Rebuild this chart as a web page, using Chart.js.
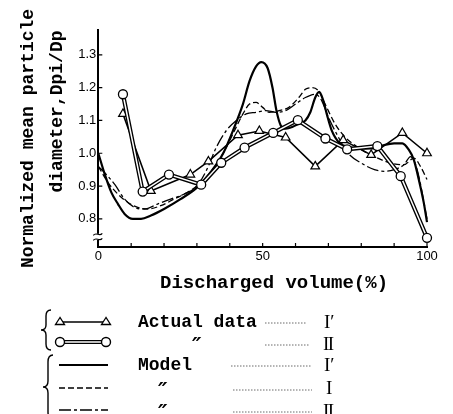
<!DOCTYPE html>
<html>
<head>
<meta charset="utf-8">
<script src="https://cdn.jsdelivr.net/npm/chart.js@4.4.1/dist/chart.umd.min.js"></script>
<style>
  html, body { margin: 0; padding: 0; background: #fff; }
  #wrap { position: relative; width: 453px; height: 414px; overflow: hidden; }
  #c { position: absolute; left: 0; top: 0; }
  #leg { position: absolute; left: 0; top: 0; pointer-events: none; }
</style>
</head>
<body>
<div id="wrap">
  <canvas id="c" width="453" height="414"></canvas>
  <svg id="leg" width="453" height="414" xmlns="http://www.w3.org/2000/svg">
    <path d="M51 310 Q46 310 46 316 L46 325 Q46 330 41 330 Q46 330 46 335 L46 344 Q46 350 51 350" fill="none" stroke="#000" stroke-width="1.4"/>
    <path d="M53 355 Q48 355 48 362 L48 381 Q48 387 43 387 Q48 387 48 393 L48 412 Q48 419 53 419" fill="none" stroke="#000" stroke-width="1.4"/>
    <line x1="60" y1="322" x2="106" y2="322" stroke="#000" stroke-width="1.5"/>
    <path d="M60 317.5 L55.5 324.5 L64.5 324.5 Z" fill="#fff" stroke="#000" stroke-width="1.3"/>
    <path d="M106 317.5 L101.5 324.5 L110.5 324.5 Z" fill="#fff" stroke="#000" stroke-width="1.3"/>
    <line x1="60" y1="342" x2="106" y2="342" stroke="#000" stroke-width="4"/>
    <line x1="64" y1="342" x2="102" y2="342" stroke="#fff" stroke-width="1.5"/>
    <circle cx="60" cy="342" r="4.5" fill="#fff" stroke="#000" stroke-width="1.4"/>
    <circle cx="106" cy="342" r="4.5" fill="#fff" stroke="#000" stroke-width="1.4"/>
    <line x1="59" y1="365" x2="108" y2="365" stroke="#000" stroke-width="2"/>
    <line x1="59" y1="388" x2="108" y2="388" stroke="#000" stroke-width="1.5" stroke-dasharray="6 3"/>
    <line x1="59" y1="410" x2="108" y2="410" stroke="#000" stroke-width="1.5" stroke-dasharray="12 3 3 3"/>
    <g stroke="#444" stroke-width="0.8" stroke-dasharray="1.5 1.5">
      <line x1="265" y1="323" x2="307" y2="323"/>
      <line x1="265" y1="345" x2="310" y2="345"/>
      <line x1="231" y1="366" x2="312" y2="366"/>
      <line x1="233" y1="390" x2="312" y2="390"/>
      <line x1="233" y1="412" x2="312" y2="412"/>
    </g>
    <g font-family="Liberation Mono, monospace" font-weight="bold" font-size="18" fill="#000">
      <text x="138" y="327">Actual data</text>
      <text x="138" y="370">Model</text>
    </g>
    <g font-family="DejaVu Sans, sans-serif" font-weight="bold" font-style="italic" font-size="21" fill="#000">
      <text x="192" y="353">″</text>
      <text x="158" y="398">″</text>
      <text x="158" y="420">″</text>
    </g>
    <g font-family="Liberation Serif, serif" font-size="19" fill="#000">
      <text x="324" y="328">I′</text>
      <text x="323" y="350" letter-spacing="-1.5">II</text>
      <text x="324" y="371">I′</text>
      <text x="326" y="394">I</text>
      <text x="323" y="417" letter-spacing="-1.5">II</text>
    </g>
  </svg>
</div>
<script>
// ---- data ----
// Actual data I' (triangles)
const actualIx = [7.5, 16, 28, 33.5, 42.5, 49, 57, 66, 74.5, 83, 92.5, 100];
const actualIy = [1.12, 0.885, 0.935, 0.975, 1.055, 1.068, 1.048, 0.96, 1.04, 0.995, 1.062, 1.0];
// Actual data II (circles)
const actualIIx = [7.5, 13.5, 21.5, 31.3, 37.4, 44.5, 53.2, 60.7, 69.1, 75.7, 84.9, 92, 100];
const actualIIy = [1.18, 0.883, 0.935, 0.904, 0.971, 1.017, 1.062, 1.101, 1.045, 1.012, 1.022, 0.93, 0.742];
// Model I' (solid)
const modelIpx = [0, 2, 4, 6, 8, 10.5, 13, 16, 20, 25, 30, 34, 38, 41, 44, 46, 48, 49.6, 51.5, 53, 54.2, 55.5, 57, 59, 61, 63, 64.5, 66, 67.2, 68.3, 69.5, 71, 73.5, 76, 80, 84, 87, 90, 92.5, 94.5, 96, 97.5, 99, 100];
const modelIpy = [1.0, 0.935, 0.88, 0.845, 0.815, 0.80, 0.80, 0.81, 0.83, 0.86, 0.895, 0.94, 1.0, 1.07, 1.15, 1.22, 1.265, 1.278, 1.26, 1.2, 1.13, 1.085, 1.075, 1.08, 1.09, 1.1, 1.125, 1.17, 1.187, 1.165, 1.12, 1.07, 1.03, 1.02, 1.015, 1.015, 1.025, 1.03, 1.03, 1.01, 0.98, 0.92, 0.85, 0.79];
// Model I (dashed)
const modelIx = [0, 3, 6, 9, 12, 15, 19, 23, 27, 30, 34, 38, 41, 44, 46, 48, 50, 52, 55, 58, 61, 63, 65, 67, 69, 72, 75, 78, 81, 85, 89, 93, 96, 98, 100];
const modelIy = [0.96, 0.91, 0.875, 0.85, 0.835, 0.83, 0.84, 0.86, 0.88, 0.9, 0.94, 1.0, 1.06, 1.12, 1.15, 1.155, 1.14, 1.125, 1.13, 1.14, 1.17, 1.195, 1.2, 1.19, 1.15, 1.09, 1.05, 1.025, 1.005, 0.985, 0.97, 0.965, 0.985, 0.96, 0.92];
// Model II (dash-dot)
const modelIIx = [0, 2, 5, 8, 11, 14, 18, 22, 26, 30, 33, 36, 39, 42, 45, 48, 51, 54, 57, 60, 63, 66, 68, 70, 73, 76, 80, 84, 87, 90, 93, 95, 97, 100];
const modelIIy = [0.96, 0.94, 0.905, 0.86, 0.835, 0.83, 0.845, 0.86, 0.875, 0.9, 0.95, 1.02, 1.07, 1.1, 1.12, 1.125, 1.13, 1.125, 1.13, 1.15, 1.17, 1.18, 1.16, 1.11, 1.05, 1.0, 0.97, 0.95, 0.945, 0.95, 0.965, 0.99, 0.95, 0.8];
// axis ticks
const yTickValues = [0.8, 0.9, 1.0, 1.1, 1.2, 1.3];
const xLabelValues = [0, 50, 100];
const xMinorTicks = [0, 10, 20, 30, 40, 50, 60, 70, 80, 90, 100];

const pts = (xs, ys) => xs.map((x, i) => ({ x: x, y: ys[i] }));

const axisExtras = {
  id: 'axisExtras',
  afterDraw(chart) {
    const ctx = chart.ctx;
    const xs = chart.scales.x, ys = chart.scales.y;
    const a = chart.chartArea;
    ctx.save();
    ctx.strokeStyle = '#000';
    ctx.lineWidth = 1.2;
    ctx.beginPath();
    xMinorTicks.forEach(v => {
      const px = xs.getPixelForValue(v);
      ctx.moveTo(px, a.bottom);
      ctx.lineTo(px, a.bottom - 4);
    });
    yTickValues.forEach(v => {
      const py = ys.getPixelForValue(v);
      ctx.moveTo(a.left, py);
      ctx.lineTo(a.left + 4, py);
    });
    ctx.stroke();
    const by = ys.getPixelForValue(0.745);
    ctx.fillStyle = '#fff';
    ctx.fillRect(a.left - 2, by - 3, 4, 6);
    ctx.lineWidth = 1.1;
    [by - 2.5, by + 2.5].forEach(yy => {
      ctx.beginPath();
      ctx.moveTo(a.left - 5, yy + 1);
      ctx.bezierCurveTo(a.left - 2, yy - 3, a.left + 1, yy + 3, a.left + 4, yy - 1);
      ctx.stroke();
    });
    ctx.restore();
  }
};

new Chart(document.getElementById('c'), {
  type: 'line',
  data: {
    datasets: [
      { label: "Model I'", order: 3, data: pts(modelIpx, modelIpy), borderColor: '#000', borderWidth: 2.2,
        pointRadius: 0, cubicInterpolationMode: 'monotone', clip: false },
      { label: 'Model I', order: 4, data: pts(modelIx, modelIy), borderColor: '#000', borderWidth: 1.3,
        borderDash: [6, 3], pointRadius: 0, cubicInterpolationMode: 'monotone', clip: false },
      { label: 'Model II', order: 5, data: pts(modelIIx, modelIIy), borderColor: '#000', borderWidth: 1.3,
        borderDash: [12, 3, 3, 3], pointRadius: 0, cubicInterpolationMode: 'monotone', clip: false },
      { label: "Actual data I'", order: 2, data: pts(actualIx, actualIy), borderColor: '#000', borderWidth: 1.6,
        pointStyle: 'triangle', pointRadius: 5, pointBorderWidth: 1.2,
        pointBackgroundColor: '#fff', pointBorderColor: '#000', tension: 0, clip: false },
      { label: 'Actual data II (outline)', order: 1, data: pts(actualIIx, actualIIy), borderColor: '#000', borderWidth: 4.2,
        pointRadius: 0, tension: 0, clip: false },
      { label: 'Actual data II', order: 0, data: pts(actualIIx, actualIIy), borderColor: '#fff', borderWidth: 1.5,
        pointStyle: 'circle', pointRadius: 4.5, pointBorderWidth: 1.3,
        pointBackgroundColor: '#fff', pointBorderColor: '#000', tension: 0, clip: false }
    ]
  },
  options: {
    responsive: false,
    animation: false,
    devicePixelRatio: 1,
    layout: { padding: { top: 30, right: 26, bottom: 119.6, left: 0 } },
    plugins: { legend: { display: false }, tooltip: { enabled: false } },
    scales: {
      x: {
        type: 'linear', min: 0, max: 100,
        grid: { display: false, drawTicks: false },
        border: { display: true, color: '#000', width: 2 },
        afterBuildTicks: s => { s.ticks = xLabelValues.map(v => ({ value: v })); },
        ticks: { color: '#000', padding: 2, font: { family: 'Liberation Sans', size: 13 },
                  maxRotation: 0, autoSkip: false },
        afterFit: s => { s.height = 47.4; },
        title: { display: true, text: '  Discharged volume(%)', color: '#000',
                 font: { family: 'Liberation Mono', size: 19, weight: 'bold', lineHeight: 1.2 },
                 padding: { top: 0, bottom: 0 } }
      },
      y: {
        type: 'linear', min: 0.714, max: 1.376,
        grid: { display: false, drawTicks: false },
        border: { display: true, color: '#000', width: 2 },
        afterBuildTicks: s => { s.ticks = yTickValues.map(v => ({ value: v })); },
        ticks: { color: '#000', padding: 2, font: { family: 'Liberation Sans', size: 13 },
                  callback: v => Number(v).toFixed(1) },
        afterFit: s => { s.width = 98.3; },
        title: { display: true, text: ['Normalized mean particle', '     diameter,Dpi/Dp'], color: '#000',
                 font: { family: 'Liberation Mono', size: 18, weight: 'bold', lineHeight: 1.6 },
                 padding: { top: 14, bottom: 0 } }
      }
    }
  },
  plugins: [axisExtras]
});
</script>
</body>
</html>
